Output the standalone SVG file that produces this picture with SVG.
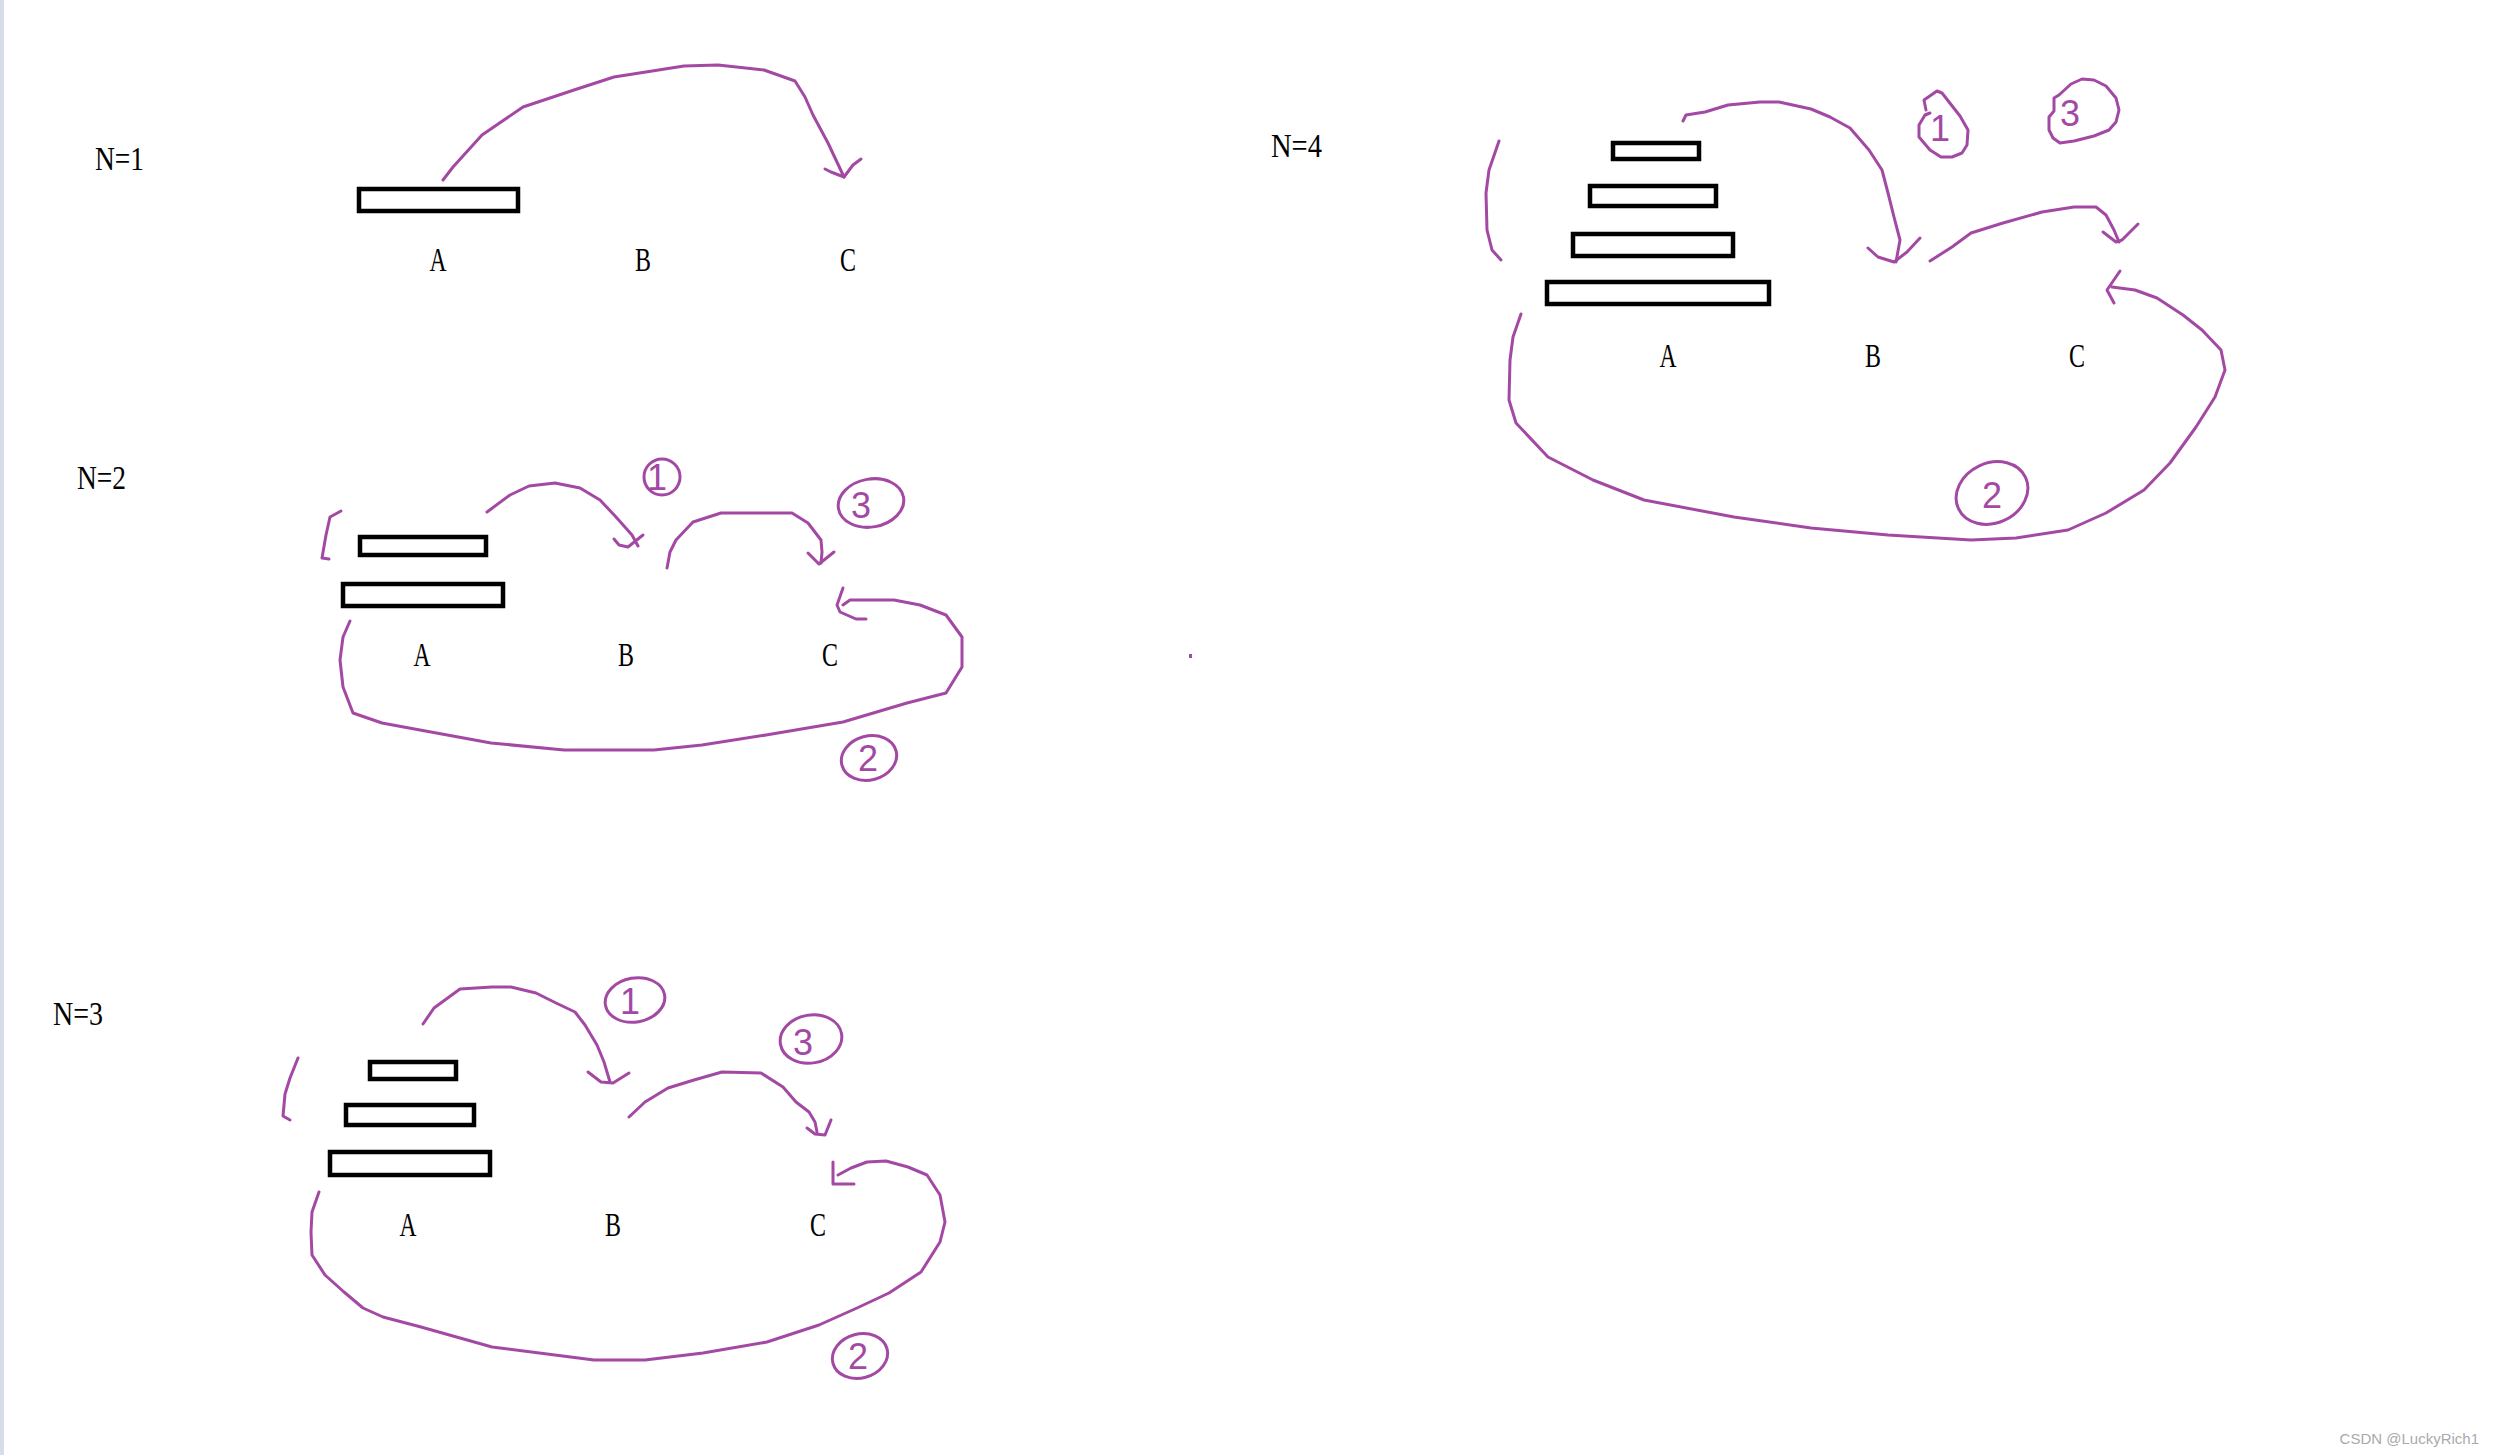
<svg xmlns="http://www.w3.org/2000/svg" width="2494" height="1455" viewBox="0 0 2494 1455">
<style>
.lbl{font-family:"Liberation Serif","Times New Roman",serif;font-size:34px;fill:#000;text-anchor:middle}
.ttl{font-family:"Liberation Serif","Times New Roman",serif;font-size:34px;fill:#000}
.disk{fill:none;stroke:#000;stroke-width:4.5}
.pen{fill:none;stroke:#A349A4;stroke-width:3;stroke-linecap:round;stroke-linejoin:round}
.num{font-family:"Liberation Sans",Arial,sans-serif;font-size:36px;fill:#A349A4;text-anchor:middle}
.wm{font-family:"Liberation Sans",Arial,sans-serif;font-size:15px;fill:#aaaaaa;text-anchor:end}
</style>
<rect x="0" y="0" width="2494" height="1455" fill="#ffffff"/>
<rect x="0" y="0" width="4" height="1455" fill="#d6dde9"/>

<g id="n1">
<text class="ttl" x="95" y="170" textLength="49" lengthAdjust="spacingAndGlyphs">N=1</text>
<g transform="translate(-3,0)">
<rect class="disk" x="362" y="189" width="159" height="22"/>
<text class="lbl" x="441" y="271" textLength="17" lengthAdjust="spacingAndGlyphs">A</text>
<text class="lbl" x="646" y="271" textLength="16" lengthAdjust="spacingAndGlyphs">B</text>
<text class="lbl" x="851" y="271" textLength="16" lengthAdjust="spacingAndGlyphs">C</text>
</g>
</g>

<g id="n2">
<text class="ttl" x="77" y="489" textLength="49" lengthAdjust="spacingAndGlyphs">N=2</text>
<g transform="translate(-3,0)">
<rect class="disk" x="363" y="537" width="126" height="18"/>
<rect class="disk" x="346" y="584" width="160" height="22"/>
<text class="lbl" x="425" y="666" textLength="17" lengthAdjust="spacingAndGlyphs">A</text>
<text class="lbl" x="629" y="666" textLength="16" lengthAdjust="spacingAndGlyphs">B</text>
<text class="lbl" x="833" y="666" textLength="16" lengthAdjust="spacingAndGlyphs">C</text>
<g id="n2-step1"><ellipse class="pen" cx="665" cy="477" rx="18" ry="18"/><text class="num" x="660" y="490" font-size="34">1</text></g>
<g id="n2-step3"><ellipse class="pen" cx="874" cy="503" rx="33" ry="24" transform="rotate(-10 874 503)"/><text class="num" x="864" y="518">3</text></g>
<g id="n2-step2"><ellipse class="pen" cx="872" cy="758" rx="28" ry="22" transform="rotate(-15 872 758)"/><text class="num" x="871" y="771">2</text></g>
</g>
</g>

<g id="n3">
<text class="ttl" x="53" y="1025" textLength="50" lengthAdjust="spacingAndGlyphs">N=3</text>
<g transform="translate(-2,-3)">
<rect class="disk" x="372" y="1065" width="86" height="17"/>
<rect class="disk" x="348" y="1108" width="128" height="20"/>
<rect class="disk" x="332" y="1155" width="160" height="23"/>
<text class="lbl" x="410" y="1239" textLength="17" lengthAdjust="spacingAndGlyphs">A</text>
<text class="lbl" x="615" y="1239" textLength="16" lengthAdjust="spacingAndGlyphs">B</text>
<text class="lbl" x="820" y="1239" textLength="16" lengthAdjust="spacingAndGlyphs">C</text>
<g id="n3-step1"><ellipse class="pen" cx="637" cy="1003" rx="30" ry="22" transform="rotate(-10 637 1003)"/><text class="num" x="632" y="1017" font-size="32">1</text></g>
<g id="n3-step3"><ellipse class="pen" cx="813" cy="1042" rx="31" ry="24" transform="rotate(-10 813 1042)"/><text class="num" x="805" y="1058">3</text></g>
<g id="n3-step2"><ellipse class="pen" cx="862" cy="1359" rx="28" ry="22" transform="rotate(-15 862 1359)"/><text class="num" x="860" y="1372" font-size="32">2</text></g>
</g>
</g>

<g id="n4">
<text class="ttl" x="1271" y="157" textLength="51" lengthAdjust="spacingAndGlyphs">N=4</text>
<g transform="translate(-6,0)">
<rect class="disk" x="1619" y="143" width="86" height="16"/>
<rect class="disk" x="1596" y="186" width="126" height="20"/>
<rect class="disk" x="1579" y="234" width="160" height="22"/>
<rect class="disk" x="1553" y="282" width="222" height="22"/>
<text class="lbl" x="1674" y="367" textLength="17" lengthAdjust="spacingAndGlyphs">A</text>
<text class="lbl" x="1879" y="367" textLength="16" lengthAdjust="spacingAndGlyphs">B</text>
<text class="lbl" x="2083" y="367" textLength="16" lengthAdjust="spacingAndGlyphs">C</text>
<g id="n4-step1"><path class="pen" d="M1932,110 L1930,100 L1943,91 L1948,93 L1966,116 L1974,130 L1973,145 L1968,153 L1958,157 L1947,157 L1936,150 L1925,137 L1925,125 L1931,115 L1936,113"/><text class="num" x="1946" y="141" font-size="38">1</text></g>
<g id="n4-step3"><path class="pen" d="M2065,95 L2077,84 L2088,79 L2100,80 L2112,86 L2122,98 L2125,110 L2122,122 L2115,130 L2100,136 L2080,141 L2066,143 L2059,138 L2055,130 L2055,117 L2060,111 L2060,98 Z"/><text class="num" x="2076" y="126">3</text></g>
<g id="n4-step2"><ellipse class="pen" cx="1998" cy="493" rx="37" ry="30" transform="rotate(-25 1998 493)"/><text class="num" x="1998" y="508">2</text></g>
</g>
</g>

<g id="connectors">
<g transform="translate(-3,0)">
<path class="pen" d="M446,180 L456,167 L485,135 L526,107 L577,90 L617,77 L687,66 L721,65 L767,70 L798,81 L808,97 L816,115 L831,143 L847,177"/>
<path class="pen" d="M828,169 L834,172 L847,177 L856,165 L864,159"/>
</g>
<g transform="translate(-3,0)">
<path class="pen" d="M344,511 L333,517 L329,535 L325,558 L332,559"/>
<path class="pen" d="M490,512 L513,495 L532,486 L558,483 L583,488 L603,500 L619,517 L635,535 L641,546"/>
<path class="pen" d="M617,539 L622,545 L631,547 L646,535"/>
<path class="pen" d="M670,568 L673,552 L679,540 L696,522 L724,513 L795,513 L811,523 L824,540 L825,552 L824,563"/>
<path class="pen" d="M811,553 L822,564 L837,552"/>
<path class="pen" d="M353,621 L346,637 L343,660 L346,687 L356,713 L385,723 L423,730 L494,743 L567,750 L657,750 L705,745 L769,735 L846,722 L910,703 L949,693 L965,667 L965,637 L949,615 L923,605 L897,600 L853,600 L846,605"/>
<path class="pen" d="M846,588 L840,605 L843,612 L859,619 L869,619"/>
</g>
<g transform="translate(-2,-3)">
<path class="pen" d="M300,1061 L292,1081 L287,1097 L285,1119 L292,1123"/>
<path class="pen" d="M425,1027 L436,1011 L462,992 L494,990 L513,990 L538,996 L558,1006 L577,1015 L587,1028 L599,1048 L606,1065 L612,1085"/>
<path class="pen" d="M590,1075 L603,1085 L615,1086 L631,1076"/>
<path class="pen" d="M631,1120 L647,1105 L670,1091 L696,1083 L724,1075 L763,1076 L785,1090 L798,1105 L811,1115 L817,1125 L819,1135"/>
<path class="pen" d="M809,1131 L817,1137 L827,1138 L833,1123"/>
<path class="pen" d="M321,1195 L314,1215 L313,1235 L314,1258 L327,1278 L346,1295 L365,1311 L385,1320 L423,1330 L494,1350 L596,1363 L647,1363 L705,1356 L769,1345 L821,1328 L859,1311 L891,1296 L923,1275 L942,1245 L947,1225 L942,1198 L929,1178 L910,1170 L888,1164 L869,1165 L853,1171 L840,1178"/>
<path class="pen" d="M835,1165 L835,1187 L856,1187"/>
</g>
<g transform="translate(-6,0)">
<path class="pen" d="M1505,141 L1495,170 L1492,193 L1493,230 L1498,250 L1507,260"/>
<path class="pen" d="M1689,121 L1692,115 L1711,112 L1734,105 L1766,102 L1785,102 L1817,109 L1836,117 L1856,128 L1875,150 L1888,170 L1894,193 L1900,217 L1906,240 L1902,262"/>
<path class="pen" d="M1874,248 L1884,257 L1900,262 L1913,252 L1926,238"/>
<path class="pen" d="M1936,261 L1958,247 L1977,233 L2009,223 L2048,212 L2080,207 L2102,207 L2112,215 L2120,230 L2125,242"/>
<path class="pen" d="M2109,232 L2122,242 L2128,240 L2144,224"/>
<path class="pen" d="M1527,314 L1519,337 L1516,360 L1515,400 L1522,423 L1554,457 L1599,480 L1650,500 L1740,517 L1817,528 L1894,535 L1977,540 L2022,538 L2074,530 L2112,513 L2150,490 L2176,463 L2202,427 L2221,397 L2231,370 L2227,350 L2208,330 L2189,315 L2163,298 L2141,290 L2118,287"/>
<path class="pen" d="M2126,271 L2113,290 L2120,303"/>
</g>
</g>

<rect x="1189" y="654" width="3" height="4" fill="#A349A4"/>
<text class="wm" x="2479" y="1444">CSDN @LuckyRich1</text>
</svg>
